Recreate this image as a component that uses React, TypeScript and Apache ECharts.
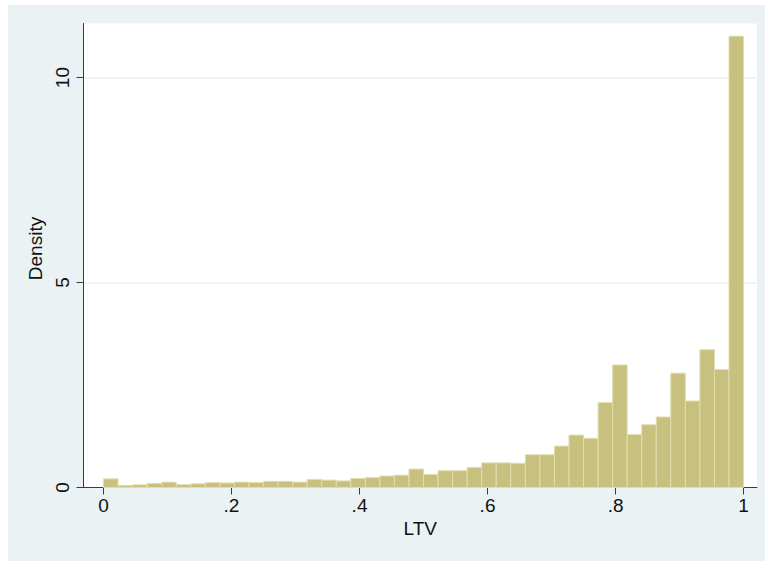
import { useEffect, useRef } from "react";
import * as echarts from "echarts";

// Histogram of LTV: 44 equal-width bins from 0 to 1, heights are densities
const BIN_START = 0;
const BIN_COUNT = 44;
const BIN_END = 1;
const DENSITY = [
  0.21, 0.05, 0.065, 0.1, 0.13, 0.07, 0.09, 0.12, 0.11, 0.13, 0.12,
  0.15, 0.15, 0.13, 0.195, 0.18, 0.16, 0.22, 0.24, 0.28, 0.3, 0.45,
  0.32, 0.41, 0.41, 0.49, 0.6, 0.6, 0.59, 0.8, 0.8, 1.01, 1.28,
  1.2, 2.07, 2.99, 1.29, 1.53, 1.72, 2.79, 2.11, 3.36, 2.88, 11.01,
];
const X_TICKS = [0, 0.2, 0.4, 0.6, 0.8, 1];
const Y_TICKS = [0, 5, 10];
const X_NAME = "LTV";
const Y_NAME = "Density";

const FONT = "'Liberation Sans', Arial, Helvetica, sans-serif";
const BG = "#EAF2F3";
const BAR_FILL = "#C8C07E";
const BAR_EDGE = "#E2DDAE";
const AXIS = "#3a3a3a";

function fmtX(v: number): string {
  if (v === 0) return "0";
  if (v === 1) return "1";
  return String(Number(v.toFixed(2))).replace(/^0\./, ".");
}

export default function App() {
  const ref = useRef<HTMLDivElement>(null);
  useEffect(() => {
    if (!ref.current) return;
    const chart = echarts.init(ref.current, null, { renderer: "svg" });
    const w = (BIN_END - BIN_START) / BIN_COUNT;
    const data = DENSITY.map((d, i) => [BIN_START + i * w, BIN_START + (i + 1) * w, d]);
    chart.setOption({
      animation: false,
      backgroundColor: BG,
      textStyle: { fontFamily: FONT },
      grid: {
        left: 75.5,
        right: 8,
        top: 18.5,
        bottom: 73.5,
        show: true,
        backgroundColor: "#ffffff",
        borderWidth: 0,
        containLabel: false,
        outerBoundsMode: "none",
      },
      xAxis: {
        type: "value",
        min: -0.03125,
        max: 1.021,
        splitNumber: 5,
        name: X_NAME,
        nameLocation: "middle",
        nameGap: 30,
        nameTextStyle: { fontSize: 19, color: "#111", fontFamily: FONT },
        axisLine: { show: true, onZero: false, lineStyle: { color: AXIS, width: 1 } },
        axisTick: { show: true, length: 7, customValues: X_TICKS, lineStyle: { color: AXIS } },
        axisLabel: {
          customValues: X_TICKS,
          margin: 8,
          fontSize: 19,
          color: "#111",
          fontFamily: FONT,
          formatter: (v: number) => fmtX(v),
        },
        splitLine: { show: false },
      },
      yAxis: {
        type: "value",
        min: 0,
        max: 11.32,
        interval: 5,
        name: Y_NAME,
        nameLocation: "middle",
        nameGap: 35,
        nameTextStyle: { fontSize: 19, color: "#111", fontFamily: FONT, padding: [0, 0, 0, 14] },
        axisLine: { show: true, onZero: false, lineStyle: { color: AXIS, width: 1 } },
        axisTick: { show: true, length: 7, customValues: Y_TICKS, lineStyle: { color: AXIS } },
        axisLabel: {
          customValues: Y_TICKS,
          rotate: 90,
          margin: 12,
          fontSize: 19,
          color: "#111",
          fontFamily: FONT,
        },
        splitLine: { show: true, lineStyle: { color: BG, width: 1.5 } },
      },
      series: [
        {
          type: "custom",
          data,
          encode: { x: [0, 1], y: 2 },
          renderItem: (params: any, api: any) => {
            const x0 = api.value(0);
            const x1 = api.value(1);
            const h = api.value(2);
            const p0 = api.coord([x0, h]);
            const p1 = api.coord([x1, 0]);
            return {
              type: "rect",
              shape: { x: p0[0], y: p0[1], width: p1[0] - p0[0], height: p1[1] - p0[1] },
              style: { fill: BAR_FILL, stroke: BAR_EDGE, lineWidth: 1 },
            };
          },
        },
      ],
    });
    return () => chart.dispose();
  }, []);
  return (
    <div
      ref={ref}
      style={{ position: "absolute", left: 8, top: 5, width: 757, height: 556 }}
    />
  );
}
